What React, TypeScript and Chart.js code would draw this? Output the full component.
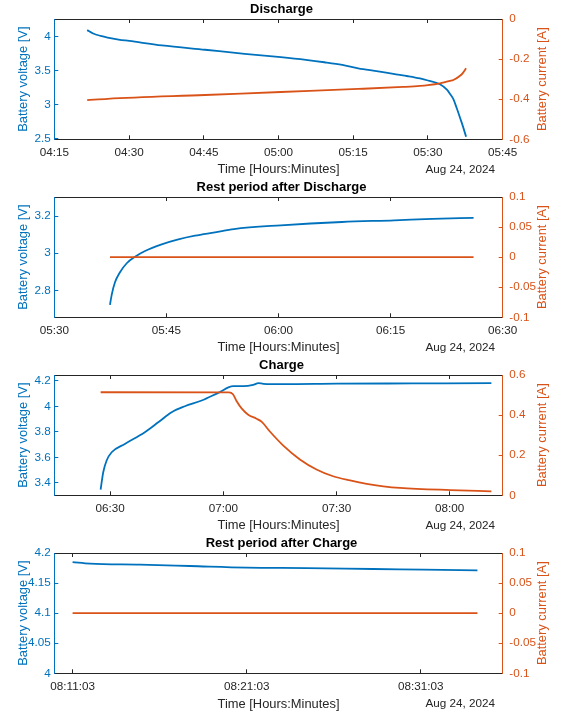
import React, { useEffect, useRef } from "react";
import { Chart, registerables } from "chart.js";

Chart.register(...registerables);

// ---------- colours & fonts ----------
const BLUE = "#0072BD";
const ORANGE = "#D95319";
const DARK = "#262626";
const FONT = "'Liberation Sans', Arial, Helvetica, sans-serif";

// ---------- data (times are minutes since midnight, Aug 24, 2024) ----------
// Panel 1: Discharge
const dischargeVTime = [261.6, 262.8, 264.3, 265.7, 267.9, 270.06, 276.6, 285.26, 293.2, 300.47, 305.5, 309.2, 312.8, 316.0, 320.0, 323.05, 326.0, 328.4, 330.0, 332.4, 333.8, 334.4, 335.1, 335.8, 336.5, 337.0, 337.65];
const dischargeV = [4.10, 4.05, 4.015, 3.99, 3.96, 3.94, 3.875, 3.81, 3.75, 3.70, 3.66, 3.625, 3.585, 3.535, 3.49, 3.452, 3.418, 3.385, 3.355, 3.30, 3.22, 3.16, 3.08, 2.94, 2.79, 2.68, 2.524];
const dischargeITime = [261.6, 265.7, 285.26, 300.47, 316.0, 325.0, 328.4, 330.0, 332.4, 334.4, 335.1, 336.5, 337.1, 337.65];
const dischargeI = [-0.405, -0.398, -0.379, -0.364, -0.349, -0.339, -0.334, -0.33, -0.321, -0.309, -0.304, -0.282, -0.266, -0.246];

// Panel 2: Rest period after Discharge
const rest1VTime = [337.45, 337.68, 338.12, 338.79, 339.69, 340.8, 342.14, 344.37, 346.6, 348.83, 351.5, 354.04, 360.3, 368.5, 375.5, 380.6, 386.1];
const rest1V = [2.721, 2.775, 2.843, 2.897, 2.946, 2.981, 3.012, 3.048, 3.075, 3.095, 3.113, 3.131, 3.151, 3.169, 3.178, 3.186, 3.191];
const rest1ITime = [337.45, 386.1];
const rest1I = [0, 0];

// Panel 3: Charge
const chargeVTime = [387.48, 388.17, 389.07, 390.4, 393.9, 399.2, 402.75, 406.3, 409.8, 414.26, 418.66, 422.6, 425.3, 427.9, 429.3, 430.6, 435.9, 450, 470, 491.05];
const chargeV = [3.348, 3.484, 3.576, 3.641, 3.706, 3.798, 3.876, 3.955, 4.002, 4.047, 4.107, 4.159, 4.159, 4.169, 4.183, 4.178, 4.175, 4.179, 4.181, 4.183];
const chargeITime = [387.48, 421.5, 422.6, 423.5, 424.9, 426.6, 428.8, 430.2, 432.4, 435.9, 440.3, 444.7, 449.1, 453.6, 458, 462.4, 466.8, 480.2, 491.05];
const chargeI = [0.514, 0.513, 0.503, 0.47, 0.432, 0.402, 0.382, 0.366, 0.317, 0.248, 0.179, 0.129, 0.095, 0.074, 0.057, 0.045, 0.037, 0.026, 0.02];

// Panel 4: Rest period after Charge
const rest2VTime = [491.05, 492.05, 494.92, 497.79, 501.05, 504.5, 508.3, 511.2, 514.3];
const rest2V = [4.185, 4.1824, 4.1807, 4.1784, 4.1757, 4.175, 4.1734, 4.1724, 4.1712];
const rest2ITime = [491.05, 514.3];
const rest2I = [0, 0];

// ---------- axis ranges & ticks ----------
const titles = ["Discharge", "Rest period after Discharge", "Charge", "Rest period after Charge"];
const xRanges = [[255, 345], [330, 390], [375.2, 494.05], [490, 515.75]];
const xTickValues = [
  [255, 270, 285, 300, 315, 330, 345],
  [330, 345, 360, 375, 390],
  [390, 420, 450, 480],
  [491.05, 501.05, 511.05],
];
const xWithSeconds = [false, false, false, true];
const vRanges = [[2.485, 4.265], [2.654, 3.304], [3.303, 4.247], [4.0, 4.2]];
const vTickValues = [
  [2.5, 3, 3.5, 4],
  [2.8, 3, 3.2],
  [3.4, 3.6, 3.8, 4, 4.2],
  [4, 4.05, 4.1, 4.15, 4.2],
];
const iRanges = [[-0.6, 0], [-0.1, 0.1], [0, 0.6], [-0.1, 0.1]];
const iTickValues = [
  [-0.6, -0.4, -0.2, 0],
  [-0.1, -0.05, 0, 0.05, 0.1],
  [0, 0.2, 0.4, 0.6],
  [-0.1, -0.05, 0, 0.05, 0.1],
];
const seriesV = [[dischargeVTime, dischargeV], [rest1VTime, rest1V], [chargeVTime, chargeV], [rest2VTime, rest2V]];
const seriesI = [[dischargeITime, dischargeI], [rest1ITime, rest1I], [chargeITime, chargeI], [rest2ITime, rest2I]];

const xLabel = "Time [Hours:Minutes]";
const vLabel = "Battery voltage [V]";
const iLabel = "Battery current [A]";
const dateLabel = "Aug 24, 2024";

// ---------- layout ----------
const W = 563;
const PLOT_LEFT = 54.3;
const PLOT_RIGHT = 502.7;
const PLOT_TOP = 19;
const PLOT_H = 120.3;
const panelTops = [0, 178, 356, 534];
const panelHeights = [178, 178, 178, 179];

const pad2 = (n: number) => (n < 10 ? "0" : "") + n;
function fmtTime(v: number, sec: boolean) {
  const s = Math.round(v * 60);
  const hh = Math.floor(s / 3600);
  const mm = Math.floor((s % 3600) / 60);
  const ss = s % 60;
  return sec ? `${pad2(hh)}:${pad2(mm)}:${pad2(ss)}` : `${pad2(hh)}:${pad2(mm)}`;
}
function fmtNum(v: number) {
  const r = Number(Number(v).toFixed(4));
  return String(r === 0 ? 0 : r);
}
function toPoints(xs: number[], ys: number[]) {
  return xs.map((x, i) => ({ x, y: ys[i] }));
}

const extraText = {
  id: "extraText",
  afterDraw(chart: any) {
    const { ctx, chartArea } = chart;
    ctx.save();
    // date under the x axis (right)
    ctx.font = `11.7px ${FONT}`;
    ctx.fillStyle = DARK;
    ctx.textAlign = "right";
    ctx.textBaseline = "middle";
    ctx.fillText(dateLabel, chartArea.right - 7.7, chartArea.bottom + 30);
    // right y label, reading bottom-to-top
    ctx.translate(542.3, (chartArea.top + chartArea.bottom) / 2);
    ctx.rotate(-Math.PI / 2);
    ctx.font = `12.9px ${FONT}`;
    ctx.fillStyle = ORANGE;
    ctx.textAlign = "center";
    ctx.fillText(iLabel, 0, 0);
    ctx.restore();
  },
};

function makeConfig(k: number, height: number): any {
  const xH = height - PLOT_TOP - PLOT_H;
  const [xMin, xMax] = xRanges[k];
  const sec = xWithSeconds[k];
  const setXTicks = (s: any) => {
    s.ticks = xTickValues[k].map((value) => ({ value }));
  };
  const tickFont = { family: FONT, size: 11.7 };
  const labelFont = { family: FONT, size: 12.9 };
  return {
    type: "line",
    data: {
      datasets: [
        {
          data: toPoints(seriesI[k][0], seriesI[k][1]),
          xAxisID: "x",
          yAxisID: "y1",
          borderColor: ORANGE,
          borderWidth: 1.8,
          pointRadius: 0,
          cubicInterpolationMode: "monotone",
          fill: false,
        },
        {
          data: toPoints(seriesV[k][0], seriesV[k][1]),
          xAxisID: "x",
          yAxisID: "y",
          borderColor: BLUE,
          borderWidth: 1.8,
          pointRadius: 0,
          cubicInterpolationMode: "monotone",
          fill: false,
        },
      ],
    },
    options: {
      responsive: false,
      animation: false,
      devicePixelRatio: 1,
      events: [],
      layout: { padding: 0 },
      plugins: {
        legend: { display: false },
        tooltip: { enabled: false },
        title: {
          display: true,
          text: titles[k],
          color: "#000000",
          font: { family: FONT, size: 13, weight: "bold", lineHeight: 1.2 },
          padding: { top: 2, bottom: PLOT_TOP - 2 - 15.6 },
        },
      },
      scales: {
        x: {
          type: "linear",
          position: "bottom",
          min: xMin,
          max: xMax,
          afterBuildTicks: setXTicks,
          afterFit: (s: any) => {
            s.height = xH;
          },
          ticks: {
            color: DARK,
            font: tickFont,
            padding: 10.7,
            maxRotation: 0,
            autoSkip: false,
            callback: (v: any) => fmtTime(Number(v), sec),
          },
          grid: { display: true, drawOnChartArea: false, drawTicks: true, tickLength: -4, color: DARK, tickColor: DARK },
          border: { display: true, color: DARK, width: 1 },
          title: { display: true, text: xLabel, color: DARK, font: labelFont, padding: { top: 0, bottom: 1 } },
        },
        x2: {
          type: "linear",
          position: "top",
          min: xMin,
          max: xMax,
          afterBuildTicks: setXTicks,
          afterFit: (s: any) => {
            s.height = 0;
          },
          ticks: { display: false },
          grid: { display: true, drawOnChartArea: false, drawTicks: true, tickLength: -4, color: DARK, tickColor: DARK },
          border: { display: true, color: DARK, width: 1 },
        },
        y: {
          type: "linear",
          position: "left",
          min: vRanges[k][0],
          max: vRanges[k][1],
          afterBuildTicks: (s: any) => {
            s.ticks = vTickValues[k].map((value) => ({ value }));
          },
          afterFit: (s: any) => {
            s.width = PLOT_LEFT;
          },
          ticks: { color: BLUE, font: tickFont, padding: 7.6, autoSkip: false, callback: (v: any) => fmtNum(v) },
          grid: { display: true, drawOnChartArea: false, drawTicks: true, tickLength: -4, color: BLUE, tickColor: BLUE },
          border: { display: true, color: BLUE, width: 1 },
          title: { display: true, text: vLabel, color: BLUE, font: labelFont, padding: { top: 15.8, bottom: 0 } },
        },
        y1: {
          type: "linear",
          position: "right",
          min: iRanges[k][0],
          max: iRanges[k][1],
          afterBuildTicks: (s: any) => {
            s.ticks = iTickValues[k].map((value) => ({ value }));
          },
          afterFit: (s: any) => {
            s.width = W - PLOT_RIGHT;
          },
          ticks: { color: ORANGE, font: tickFont, padding: 10.6, autoSkip: false, callback: (v: any) => fmtNum(v) },
          grid: { display: true, drawOnChartArea: false, drawTicks: true, tickLength: -4, color: ORANGE, tickColor: ORANGE },
          border: { display: true, color: ORANGE, width: 1 },
        },
      },
    },
    plugins: [extraText],
  };
}

function Panel({ k }: { k: number }) {
  const ref = useRef<HTMLCanvasElement>(null);
  const h = panelHeights[k];
  useEffect(() => {
    const chart = new Chart(ref.current as HTMLCanvasElement, makeConfig(k, h));
    return () => chart.destroy();
  }, [k, h]);
  return (
    <canvas
      ref={ref}
      width={W}
      height={h}
      style={{ position: "absolute", left: 0, top: panelTops[k], width: W, height: h, display: "block" }}
    />
  );
}

export default function App() {
  return (
    <div style={{ position: "absolute", left: 0, top: 0, width: W, height: 713, background: "#ffffff" }}>
      {[0, 1, 2, 3].map((k) => (
        <Panel key={k} k={k} />
      ))}
    </div>
  );
}
